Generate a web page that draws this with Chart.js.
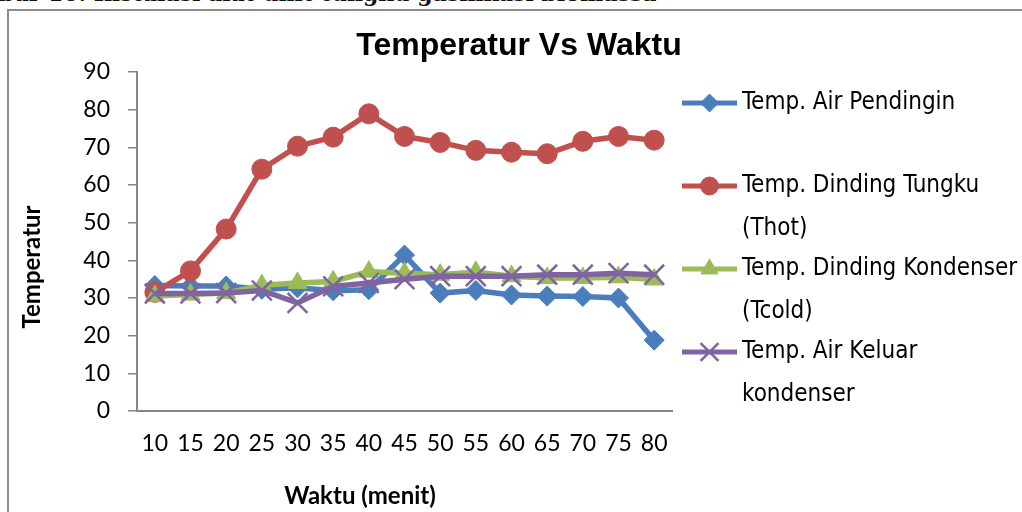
<!DOCTYPE html>
<html lang="id">
<head>
<meta charset="UTF-8">
<title>Temperatur Vs Waktu</title>
<script src="https://cdn.jsdelivr.net/npm/chart.js@4.4.1/dist/chart.umd.min.js"></script>
<style>
    body { margin: 0; background: #fff; width: 1022px; height: 512px; overflow: hidden; position: relative; }
    .caption { position: absolute; left: -1px; top: -18px; font: bold 22px "DejaVu Serif", serif; line-height: 22px; white-space: nowrap; color: #111; }
    .frame { position: absolute; left: 7px; top: 9px; width: 1100px; height: 600px; border-left: 2px solid #8c8c8c; border-top: 2px solid #8c8c8c; }
    #wrap { position: absolute; left: 0; top: 0; width: 1022px; height: 512px; }
</style>
</head>
<body>
<div class="caption">bar 10. Instalasi alat unit tungku gasifikasi biomassa</div>
<div class="frame"></div>
<div id="wrap"><canvas id="chart"></canvas></div>

<script>
    // data
    const waktu = ['10', '15', '20', '25', '30', '35', '40', '45', '50', '55', '60', '65', '70', '75', '80'];
    const airPendingin = [33.3, 33.2, 33.2, 32.3, 32.7, 31.9, 32.2, 41.4, 31.3, 32.0, 30.8, 30.5, 30.4, 30.0, 18.8];
    const dindingTungku = [31.5, 37.2, 48.3, 64.2, 70.3, 72.7, 78.9, 72.9, 71.3, 69.2, 68.7, 68.3, 71.6, 72.9, 71.9];
    const dindingKondenser = [30.5, 30.9, 31.3, 33.4, 34.0, 34.4, 37.0, 36.6, 36.2, 36.9, 35.8, 35.3, 35.3, 35.5, 34.9];
    const airKeluar = [31.2, 31.2, 31.3, 32.0, 28.7, 33.1, 34.0, 35.0, 35.8, 35.8, 35.8, 36.2, 36.2, 36.6, 36.2];
    const seriesNames = ['Temp. Air Pendingin', 'Temp. Dinding Tungku (Thot)', 'Temp. Dinding Kondenser (Tcold)', 'Temp. Air Keluar kondenser'];
    const yTicks = [0, 10, 20, 30, 40, 50, 60, 70, 80, 90];

    const chartTitle = 'Temperatur Vs Waktu';
    const xTitle = 'Waktu (menit)';
    const yTitle = 'Temperatur';

    const axisGray = '#868686';
    const tickFont = { family: 'Lato, "Open Sans", sans-serif', size: 23 };

    // judul, judul sumbu dan legenda digambar sendiri
    const extraText = {
        id: 'extraText',
        afterDraw(chart) {
            const ctx = chart.ctx;
            ctx.save();
            ctx.fillStyle = '#000';
            ctx.textAlign = 'center';
            ctx.textBaseline = 'alphabetic';
            ctx.font = 'bold 32px "Liberation Sans", Arial, sans-serif';
            ctx.fillText(chartTitle, 519, 55);

            ctx.textBaseline = 'middle';
            ctx.font = 'bold 24px Lato, sans-serif';
            ctx.fillText(xTitle, 360, 496);
            ctx.save();
            ctx.translate(32, 267);
            ctx.rotate(-Math.PI / 2);
            ctx.fillText(yTitle, 0, 0);
            ctx.restore();

            // legenda
            ctx.textAlign = 'left';
            ctx.font = '24px "DejaVu Sans Condensed", "Liberation Sans Narrow", "DejaVu Sans", sans-serif';
            chart.data.datasets.forEach((ds, i) => {
                const y0 = 103 + 83 * i;
                ctx.strokeStyle = ds.borderColor;
                ctx.lineWidth = 5;
                ctx.beginPath();
                ctx.moveTo(682, y0);
                ctx.lineTo(737, y0);
                ctx.stroke();
                ctx.fillStyle = ds.borderColor;
                ctx.lineWidth = ds.pointBorderWidth;
                Chart.helpers.drawPoint(ctx, {
                    pointStyle: ds.pointStyle, rotation: 0,
                    radius: ds.pointRadius * 0.9, borderWidth: ds.pointBorderWidth
                }, 709.5, y0);

                ctx.fillStyle = '#000';
                const words = ds.label.split(' ');
                const lines = [];
                let cur = '';
                words.forEach(w => {
                    const test = cur ? cur + ' ' + w : w;
                    if (ctx.measureText(test).width > 285 && cur) { lines.push(cur); cur = w; }
                    else cur = test;
                });
                lines.push(cur);
                lines.forEach((ln, k) => ctx.fillText(ln, 742, y0 + 43 * k));
            });
            ctx.restore();
        }
    };

    new Chart(document.getElementById('chart'), {
        type: 'line',
        data: {
            labels: waktu,
            datasets: [
                { label: seriesNames[0], data: airPendingin, borderColor: '#4a7ebb', backgroundColor: '#4a7ebb',
                  pointStyle: 'rectRot', pointRadius: 10, pointBorderWidth: 1, order: 4 },
                { label: seriesNames[1], data: dindingTungku, borderColor: '#c0504d', backgroundColor: '#c0504d',
                  pointStyle: 'circle', pointRadius: 10, pointBorderWidth: 1, order: 3 },
                { label: seriesNames[2], data: dindingKondenser, borderColor: '#9bbb59', backgroundColor: '#9bbb59',
                  pointStyle: 'triangle', pointRadius: 11, pointBorderWidth: 1, order: 2 },
                { label: seriesNames[3], data: airKeluar, borderColor: '#8064a2', backgroundColor: '#8064a2',
                  pointStyle: 'crossRot', pointRadius: 14, pointBorderWidth: 2.5, order: 1 }
            ]
        },
        options: {
            responsive: true, maintainAspectRatio: false, animation: false,
            layout: { padding: { left: 8, top: 72, right: 350, bottom: 0 } },
            elements: { line: { borderWidth: 5.5, tension: 0 } },
            plugins: { legend: { display: false }, title: { display: false }, tooltip: { enabled: false } },
            scales: {
                x: {
                    offset: true,
                    grid: { display: false, drawTicks: false },
                    border: { display: true, color: axisGray, width: 2 },
                    ticks: { font: tickFont, color: '#000', padding: 19, maxRotation: 0, autoSkip: false },
                    afterFit(s) { s.height = 101; }
                },
                y: {
                    min: 0, max: 90,
                    afterBuildTicks(s) { s.ticks = yTicks.map(v => ({ value: v })); },
                    grid: { drawOnChartArea: false, drawTicks: true, tickLength: 9, color: axisGray, lineWidth: 1.5 },
                    border: { display: true, color: axisGray, width: 2 },
                    ticks: { font: tickFont, color: '#000', padding: 18 },
                    afterFit(s) { s.width = 129; }
                }
            }
        },
        plugins: [extraText]
    });
</script>
</body>
</html>
